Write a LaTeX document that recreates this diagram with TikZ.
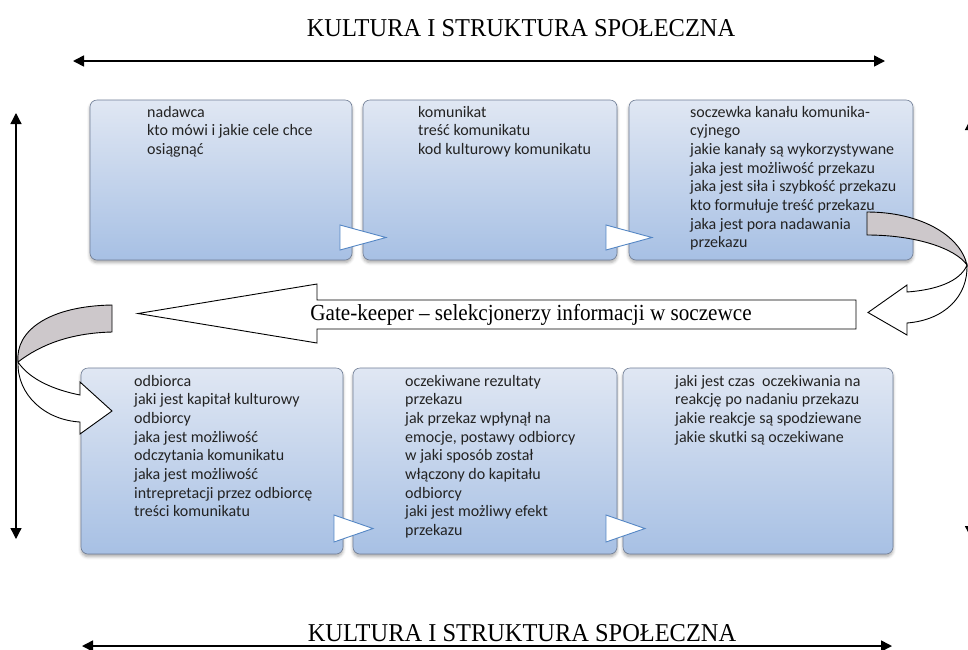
\documentclass[tikz,border=0pt]{standalone}
\usepackage{fontspec}
\setmainfont{Liberation Serif}
\newfontfamily\boxfont{Carlito}
\usetikzlibrary{shadows.blur,arrows.meta}

\definecolor{boxtop}{RGB}{224,231,243}
\definecolor{boxbot}{RGB}{167,192,228}
\definecolor{boxline}{RGB}{112,126,150}
\definecolor{chevline}{RGB}{84,134,196}
\definecolor{bandgray}{RGB}{205,200,203}
\definecolor{boxtext}{RGB}{35,35,35}

\tikzset{
  stagebox/.style={rounded corners=7pt, draw=boxline, line width=0.6pt,
    top color=boxtop, bottom color=boxbot, inner sep=0pt, outer sep=0pt,
    anchor=north west,
    blur shadow={shadow xshift=0pt, shadow yshift=-2.5pt,
      shadow blur radius=3pt, shadow opacity=35}},
  chevron/.style={draw=chevline, fill=white, line width=0.9pt, line join=miter},
  stagetext/.style={anchor=base west, inner sep=0pt, text=boxtext,
    font=\boxfont\fontsize{16}{18.7}\selectfont},
  bigarrow/.style={draw=black, line width=0.9pt, fill=white, line join=miter},
  backband/.style={draw=black, line width=0.9pt, fill=bandgray},
  axisline/.style={line width=1.3pt,
    {Triangle[length=11pt,width=11pt]}-{Triangle[length=11pt,width=11pt]}},
  titletext/.style={inner sep=0pt, anchor=base,
    font=\fontsize{25.7}{30}\selectfont},
}

\begin{document}
\begin{tikzpicture}[x=1pt,y=-1pt]
\useasboundingbox (0,0) rectangle (968,649);

% titles
\node[titletext] (ttop) at (521,36) {\scalebox{0.95}[1]{KULTURA I STRUKTURA SPOŁECZNA}};
\node[titletext] (tbot) at (522,641) {\scalebox{0.95}[1]{KULTURA I STRUKTURA SPOŁECZNA}};

% upper row of stages
\node[stagebox, minimum width=262, minimum height=160] (b1) at (90,100) {};
\node[stagebox, minimum width=254, minimum height=160] (b2) at (363,100) {};
\node[stagebox, minimum width=284, minimum height=160] (b3) at (629,100) {};

% lower row of stages
\node[stagebox, minimum width=262, minimum height=186] (b4) at (81,368) {};
\node[stagebox, minimum width=264, minimum height=186] (b5) at (353,368) {};
\node[stagebox, minimum width=270, minimum height=186] (b6) at (623,368) {};

% stage texts
\node[stagetext] (s1) at (147,117) {\begin{tabular}[t]{@{}l@{}}
nadawca\\ kto mówi i jakie cele chce\\ osiągnąć\end{tabular}};
\node[stagetext] (s2) at (418,117) {\begin{tabular}[t]{@{}l@{}}
komunikat\\ treść komunikatu\\ kod kulturowy komunikatu\end{tabular}};
\node[stagetext] (s3) at (690,117) {\begin{tabular}[t]{@{}l@{}}
soczewka kanału komunika-\\ cyjnego\\ jakie kanały są wykorzystywane\\
jaka jest możliwość przekazu\\ jaka jest siła i szybkość przekazu\\
kto formułuje treść przekazu\\ jaka jest pora nadawania\\ przekazu\end{tabular}};
\node[stagetext] (s4) at (134,386) {\begin{tabular}[t]{@{}l@{}}
odbiorca\\ jaki jest kapitał kulturowy\\ odbiorcy\\ jaka jest możliwość\\
odczytania komunikatu\\ jaka jest możliwość\\ intrepretacji przez odbiorcę\\
treści komunikatu\end{tabular}};
\node[stagetext] (s5) at (405,386) {\begin{tabular}[t]{@{}l@{}}
oczekiwane rezultaty\\ przekazu\\ jak przekaz wpłynął na\\
emocje, postawy odbiorcy\\ w jaki sposób został\\ włączony do kapitału\\
odbiorcy\\ jaki jest możliwy efekt\\ przekazu\end{tabular}};
\node[stagetext] (s6) at (675,386) {\begin{tabular}[t]{@{}l@{}}
jaki jest czas\ \ oczekiwania na\\ reakcję po nadaniu przekazu\\
jakie reakcje są spodziewane\\ jakie skutki są oczekiwane\end{tabular}};

% chevrons between stages
\draw[chevron] (340,225) -- (386,237.5) -- (340,250) -- cycle;
\draw[chevron] (606,225) -- (652,237.5) -- (606,250) -- cycle;
\draw[chevron] (334,515) -- (373,528.5) -- (334,542) -- cycle;
\draw[chevron] (606,515) -- (645,528.5) -- (606,542) -- cycle;

% gate-keeper block arrow
\draw[bigarrow] (856,300) -- (317,300) -- (317,284) -- (138,313.5)
  -- (317,343) -- (317,329) -- (856,329) -- cycle;
\node[inner sep=0pt, font=\fontsize{23}{26}\selectfont] (gk) at (531,314.5)
  {\scalebox{0.92}[1]{Gate-keeper – selekcjonerzy informacji w soczewce}};

% right curved arrow: back band and front band with head
\draw[backband] (867,212) .. controls (920,212) and (960,235) .. (967,265)
  .. controls (955,248) and (915,235) .. (867,235) -- cycle;
\draw[bigarrow] (967,265) .. controls (968,296) and (945,320) .. (907,323)
  -- (907,335) -- (868,312.5) -- (907,285) -- (907,292)
  .. controls (935,290) and (960,282) .. (967,265) -- cycle;

% left curved arrow: back band and front band with head
\draw[backband] (112,305) .. controls (50,306) and (15,330) .. (18,362)
  .. controls (40,345) and (70,333) .. (112,332) -- cycle;
\draw[bigarrow] (18,362) .. controls (17,395) and (45,420) .. (80,422)
  -- (80,434) -- (112,411) -- (80,382) -- (80,395)
  .. controls (55,390) and (30,380) .. (18,362) -- cycle;

% framing axes
\coordinate (htl) at (73,61);
\coordinate (htr) at (885,61);
\coordinate (hbl) at (82,646);
\coordinate (hbr) at (892,646);
\coordinate (vlt) at (16,113);
\coordinate (vlb) at (16,539);
\coordinate (vrt) at (970.5,119);
\coordinate (vrb) at (970.5,537);
\draw[axisline, line width=1.6pt] (htl) -- (htr);
\draw[axisline, line width=1.6pt] (hbl) -- (hbr);
\draw[axisline] (vlt) -- (vlb);
\draw[axisline] (vrt) -- (vrb);
\end{tikzpicture}
\end{document}
